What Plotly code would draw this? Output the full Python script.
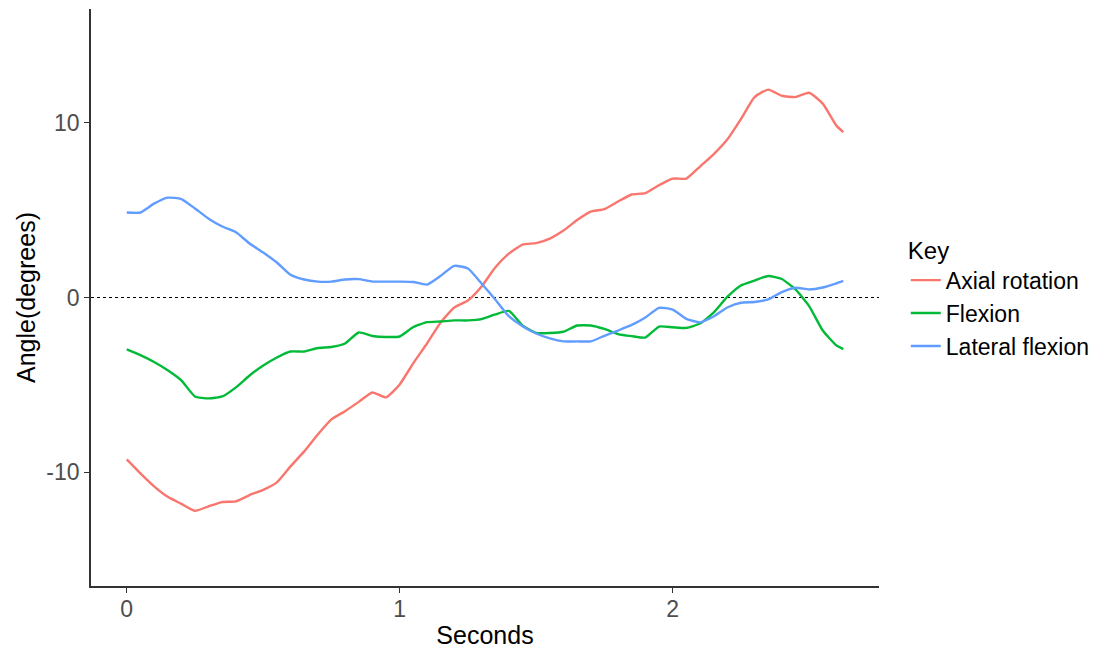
import plotly.graph_objects as go

# Time base (seconds) shared by all three angle series
seconds = [
    0.00, 0.05, 0.10, 0.15, 0.20, 0.25, 0.30, 0.35, 0.40, 0.45,
    0.50, 0.55, 0.60, 0.65, 0.70, 0.75, 0.80, 0.85, 0.90, 0.95,
    1.00, 1.05, 1.10, 1.15, 1.20, 1.25, 1.30, 1.35, 1.40, 1.45,
    1.50, 1.55, 1.60, 1.65, 1.70, 1.75, 1.80, 1.85, 1.90, 1.95,
    2.00, 2.05, 2.10, 2.15, 2.20, 2.25, 2.30, 2.35, 2.40, 2.45,
    2.50, 2.55, 2.60, 2.625,
]

axial_rotation = [
    -9.26, -10.06, -10.80, -11.40, -11.80, -12.20, -11.94, -11.70, -11.66, -11.30,
    -11.00, -10.57, -9.66, -8.80, -7.83, -6.97, -6.50, -5.97, -5.43, -5.71,
    -4.97, -3.75, -2.63, -1.43, -0.57, -0.17, 0.63, 1.71, 2.51, 3.03,
    3.11, 3.37, 3.83, 4.43, 4.91, 5.06, 5.49, 5.89, 5.97, 6.42,
    6.80, 6.80, 7.49, 8.19, 9.03, 10.20, 11.46, 11.89, 11.54, 11.46,
    11.71, 11.09, 9.83, 9.46,
]

flexion = [
    -2.97, -3.30, -3.69, -4.16, -4.74, -5.66, -5.77, -5.66, -5.14, -4.46,
    -3.89, -3.43, -3.09, -3.09, -2.89, -2.83, -2.63, -2.00, -2.20, -2.26,
    -2.23, -1.69, -1.41, -1.37, -1.31, -1.31, -1.24, -0.97, -0.77, -1.60,
    -2.03, -2.03, -1.96, -1.60, -1.60, -1.80, -2.09, -2.21, -2.29, -1.66,
    -1.70, -1.74, -1.49, -0.86, 0.03, 0.69, 0.97, 1.23, 1.06, 0.46,
    -0.49, -1.89, -2.74, -2.95,
]

lateral_flexion = [
    4.86, 4.86, 5.37, 5.71, 5.63, 5.09, 4.51, 4.06, 3.73, 3.09,
    2.57, 2.00, 1.30, 1.03, 0.91, 0.91, 1.03, 1.05, 0.91, 0.91,
    0.91, 0.89, 0.74, 1.24, 1.81, 1.66, 0.80, -0.11, -1.07, -1.64,
    -2.06, -2.34, -2.51, -2.51, -2.51, -2.19, -1.89, -1.57, -1.14, -0.59,
    -0.69, -1.22, -1.42, -1.09, -0.57, -0.30, -0.26, -0.11, 0.31, 0.56,
    0.46, 0.57, 0.81, 0.95,
]

series = [
    ("Axial rotation", axial_rotation, "#F8766D"),
    ("Flexion", flexion, "#00BA38"),
    ("Lateral flexion", lateral_flexion, "#619CFF"),
]

x_ticks = [0, 1, 2]
y_ticks = [-10, 0, 10]

FONT = "Liberation Sans, Arial, sans-serif"

fig = go.Figure()
for name, values, color in series:
    fig.add_trace(go.Scatter(
        x=seconds, y=values, mode="lines", name=name,
        line=dict(color=color, width=2.4, shape="spline", smoothing=0.5),
    ))

# Dotted reference line at zero degrees
fig.add_shape(
    type="line", xref="paper", x0=0, x1=1, yref="y", y0=0, y1=0,
    line=dict(color="black", width=1.2, dash="dot"), layer="below",
)

axis_common = dict(
    showgrid=False, zeroline=False, automargin=False,
    showline=True, linecolor="#333333", linewidth=1.6,
    ticks="outside", ticklen=5, tickwidth=1.3, tickcolor="#333333",
    tickfont=dict(family=FONT, size=23, color="#4D4D4D"),
    title_font=dict(family=FONT, size=25, color="black"),
)

fig.update_layout(
    width=1105, height=649,
    margin=dict(l=91, r=226, t=9, b=63),
    plot_bgcolor="white", paper_bgcolor="white",
    font=dict(family=FONT, color="black"),
    xaxis=dict(
        range=[-0.131, 2.756], tickvals=x_ticks, ticktext=[str(v) for v in x_ticks],
        ticklabelstandoff=-3,
        title=dict(text="Seconds", standoff=6), **axis_common,
    ),
    yaxis=dict(
        range=[-16.5, 16.5], tickvals=y_ticks, ticktext=[str(v) for v in y_ticks],
        title=dict(text="Angle(degrees)", standoff=4), **axis_common,
    ),
    legend=dict(
        title=dict(text="Key", font=dict(family=FONT, size=24, color="black")),
        font=dict(family=FONT, size=23, color="black"),
        x=1.034, xanchor="left", y=0.5, yanchor="middle",
        bgcolor="rgba(0,0,0,0)",
    ),
    showlegend=True,
)

fig.write_html("out.html")
